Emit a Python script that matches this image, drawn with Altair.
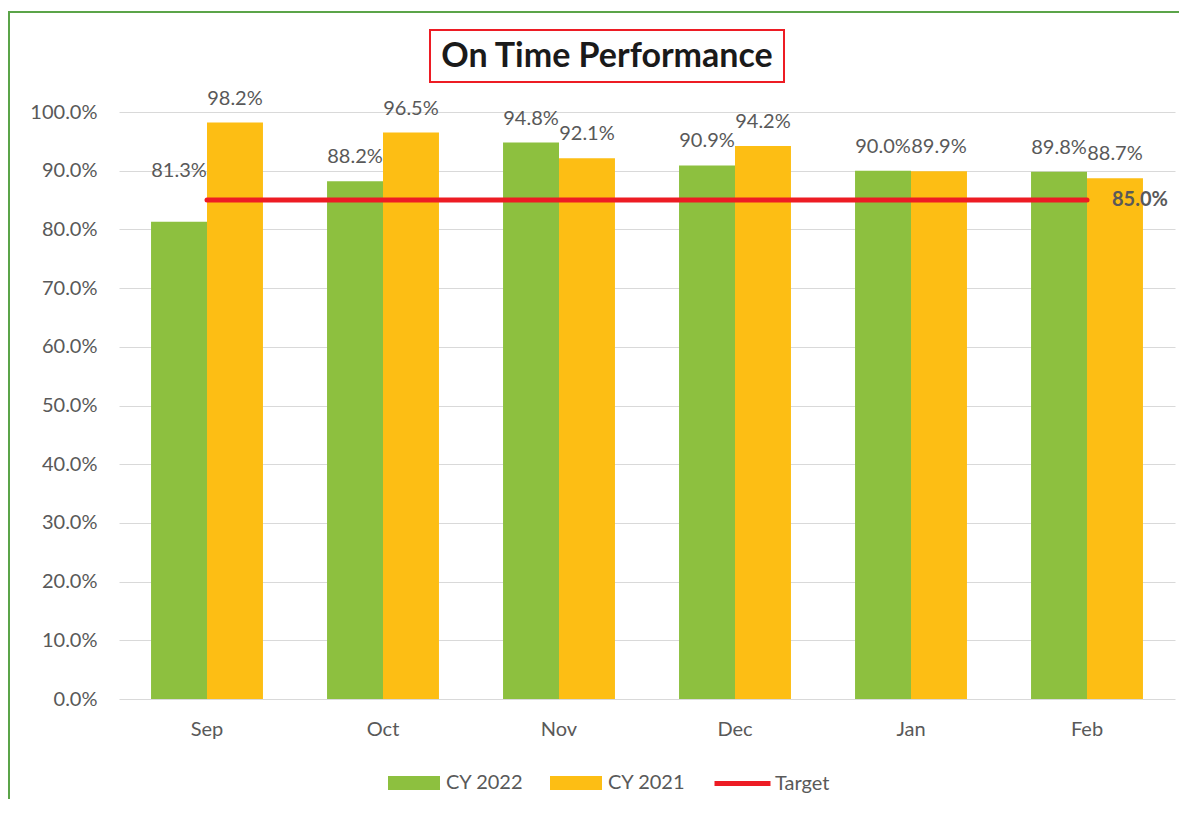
import altair as alt
import pandas as pd

months = ["Sep", "Oct", "Nov", "Dec", "Jan", "Feb"]
cy2022 = [0.813, 0.882, 0.948, 0.909, 0.900, 0.898]
cy2021 = [0.982, 0.965, 0.921, 0.942, 0.899, 0.887]
target = 0.85
series_names = ["CY 2022", "CY 2021"]
y_ticks = [0.0, 0.1, 0.2, 0.3, 0.4, 0.5, 0.6, 0.7, 0.8, 0.9, 1.0]
title_text = "On Time Performance"

GREEN = "#8DC03F"
ORANGE = "#FDBE14"
RED = "#ED1C24"
GRAY = "#595959"
FONT = "Lato"
FS = 20

rows = []
for m, a, b in zip(months, cy2022, cy2021):
    rows.append({"month": m, "series": series_names[0], "value": a})
    rows.append({"month": m, "series": series_names[1], "value": b})
bars_df = pd.DataFrame(rows)
target_df = pd.DataFrame({"month": months, "value": [target] * len(months), "name": ["Target"] * len(months)})
one = pd.DataFrame({"k": [0]})

W, H = 1056, 587

x_enc = alt.X("month:N", sort=months,
              scale=alt.Scale(paddingInner=0.364, paddingOuter=0.182),
              axis=alt.Axis(title=None, labelAngle=0, domain=False, ticks=False, grid=False,
                            labelPadding=20, labelFontSize=FS, labelColor=GRAY, labelFont=FONT))
y_scale = alt.Scale(domain=[0, 1])
xoff = alt.XOffset("series:N", sort=series_names, scale=alt.Scale(paddingInner=0, paddingOuter=0))

bars = alt.Chart(bars_df).mark_bar().encode(
    x=x_enc,
    xOffset=xoff,
    y=alt.Y("value:Q", scale=y_scale,
            axis=alt.Axis(title=None, format=".1%", values=y_ticks, grid=True, gridColor="#D9D9D9",
                          domain=False, ticks=False, labelPadding=22, labelFontSize=FS,
                          labelColor=GRAY, labelFont=FONT)),
    color=alt.Color("series:N", sort=series_names,
                    scale=alt.Scale(domain=series_names, range=[GREEN, ORANGE]),
                    legend=alt.Legend(orient="none", legendX=269, legendY=645, direction="horizontal",
                                      title=None, symbolType="M-1,-0.27H1V0.27H-1Z", symbolSize=2704,
                                      symbolStrokeWidth=0, symbolOpacity=1, labelFontSize=FS,
                                      labelColor=GRAY, labelFont=FONT, labelOffset=6, columnPadding=26,
                                      padding=0)),
)

labels = alt.Chart(bars_df).transform_calculate(
    ly=f"datum.value < {target} ? {target} + 0.009 : datum.value"
).mark_text(baseline="alphabetic", dy=-18, fontSize=FS, color=GRAY, font=FONT).encode(
    x=alt.X("month:N", sort=months),
    xOffset=xoff,
    y=alt.Y("ly:Q", scale=y_scale),
    text=alt.Text("value:Q", format=".1%"),
)

line = alt.Chart(target_df).mark_line(strokeWidth=5, strokeCap="round").encode(
    x=alt.X("month:N", sort=months),
    y=alt.Y("value:Q", scale=y_scale),
    stroke=alt.Stroke("name:N", scale=alt.Scale(domain=["Target"], range=[RED]),
                      legend=alt.Legend(orient="none", legendX=593, legendY=641, title=None,
                                        symbolType="stroke", symbolSize=3136, symbolStrokeWidth=5,
                                        labelFontSize=FS, labelColor=GRAY, labelFont=FONT,
                                        labelOffset=2, padding=0)),
)

target_label = alt.Chart(target_df).transform_filter(
    alt.datum.month == months[-1]
).mark_text(align="left", baseline="middle", dx=25, fontSize=FS, fontWeight="bold",
            color=GRAY, font=FONT).encode(
    x=alt.X("month:N", sort=months),
    y=alt.Y("value:Q", scale=y_scale),
    text=alt.Text("value:Q", format=".1%"),
)

title_box = alt.Chart(one).mark_rect(fill="white", stroke=RED, strokeWidth=2).encode(
    x=alt.value(311), x2=alt.value(665), y=alt.value(-82), y2=alt.value(-30))
title_mark = alt.Chart(one).mark_text(text=title_text, fontSize=34, fontWeight="bold", color="#1A1A1A",
                                      font=FONT, align="center", baseline="middle").encode(
    x=alt.value(488), y=alt.value(-55))
border = alt.Chart(one).mark_rect(fill=None, stroke="#5BA449", strokeWidth=2).encode(
    x=alt.value(-110), x2=alt.value(W + 60), y=alt.value(-100), y2=alt.value(H + 150))

chart = alt.layer(border, bars, line, labels, target_label, title_box, title_mark).properties(
    width=W, height=H,
    autosize=alt.AutoSizeParams(type="none"),
    padding={"left": 111, "top": 104, "right": 4, "bottom": 100},
).configure(background="white").configure_view(stroke=None)

chart.save("out.html", embed_options={"renderer": "svg", "actions": False})
